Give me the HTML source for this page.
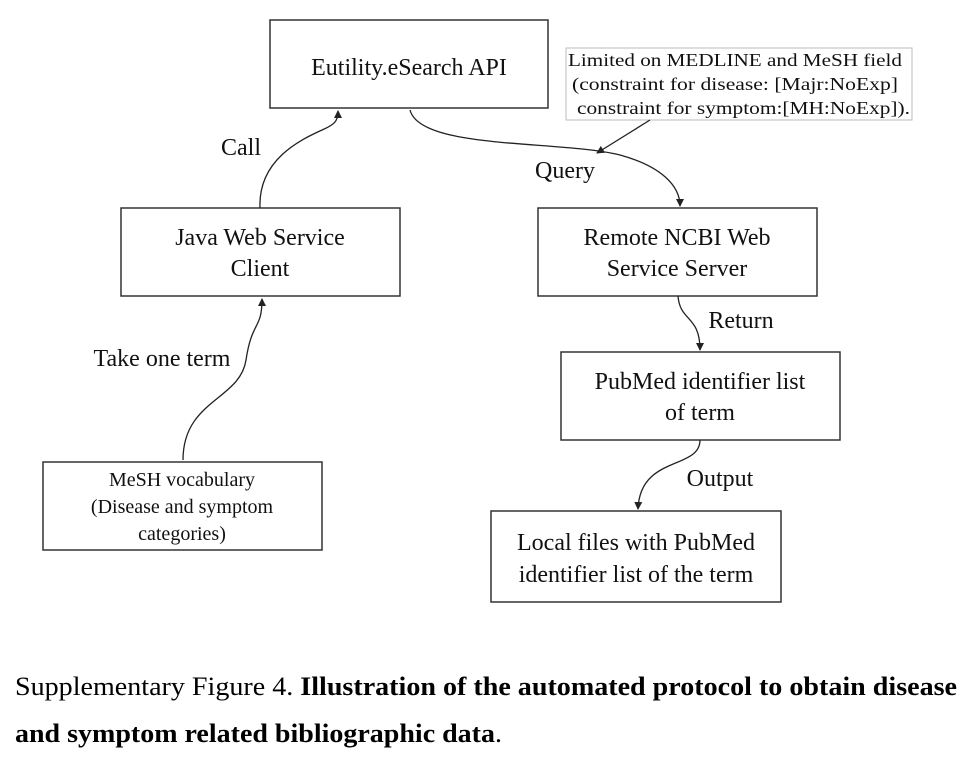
<!DOCTYPE html>
<html><head><meta charset="utf-8"><style>
html,body{margin:0;padding:0;background:#fff;}
svg{display:block;}
text{font-family:"Liberation Serif","Times New Roman",serif;}
</style></head><body>
<svg width="971" height="758" viewBox="0 0 971 758" xmlns="http://www.w3.org/2000/svg" font-family="Liberation Serif, serif">
<defs><marker id="a" markerWidth="8" markerHeight="8" refX="7" refY="4" orient="auto" markerUnits="userSpaceOnUse"><path d="M0,0 L8,4 L0,8 z" fill="#222"/></marker></defs>
<g fill="none" stroke="#333" stroke-width="1.5">
<rect x="270" y="20" width="278" height="88"/>
<rect x="121" y="208" width="279" height="88"/>
<rect x="538" y="208" width="279" height="88"/>
<rect x="43" y="462" width="279" height="88"/>
<rect x="561" y="352" width="279" height="88"/>
<rect x="491" y="511" width="290" height="91"/>
</g>
<rect x="566" y="48" width="346" height="72" fill="none" stroke="#bbb" stroke-width="1"/>
<g fill="none" stroke="#222" stroke-width="1.3">
<path d="M260 208 C258 160, 300 140, 322 130 C336 124, 338 120, 338 111" marker-end="url(#a)"/>
<path d="M410 110 C420 150, 560 140, 620 155 C660 166, 680 185, 680 206" marker-end="url(#a)"/>
<path d="M650 120 L597 153" marker-end="url(#a)"/>
<path d="M678 296 C680 322, 700 315, 700 350" marker-end="url(#a)"/>
<path d="M183 460 C183 400, 240 400, 246 360 C252 320, 262 330, 262 299" marker-end="url(#a)"/>
<path d="M700 440 C700 470, 640 455, 638 509" marker-end="url(#a)"/>
</g>
<g fill="#111" text-anchor="middle" font-size="24">
<text x="409" y="75">Eutility.eSearch API</text>
<text x="260" y="245">Java Web Service</text>
<text x="260" y="276">Client</text>
<text x="677" y="245">Remote NCBI Web</text>
<text x="677" y="276">Service Server</text>
<text x="700" y="389">PubMed identifier list</text>
<text x="700" y="420">of term</text>
<text x="636" y="550">Local files with PubMed</text>
<text x="636" y="582">identifier list of the term</text>
<text x="241" y="155">Call</text>
<text x="565" y="178">Query</text>
<text x="741" y="328">Return</text>
<text x="162" y="366">Take one term</text>
<text x="720" y="486">Output</text>
</g>
<g fill="#111" text-anchor="middle" font-size="20">
<text x="182" y="486">MeSH vocabulary</text>
<text x="182" y="513">(Disease and symptom</text>
<text x="182" y="540">categories)</text>
</g>
<g fill="#111" font-size="18">
<text x="568" y="66" textLength="334" lengthAdjust="spacingAndGlyphs">Limited on MEDLINE and MeSH field</text>
<text x="572" y="90" textLength="326" lengthAdjust="spacingAndGlyphs">(constraint for disease: [Majr:NoExp]</text>
<text x="577" y="114" textLength="333" lengthAdjust="spacingAndGlyphs">constraint for symptom:[MH:NoExp]).</text>
</g>
<g fill="#000" font-size="26">
<text x="15" y="695" textLength="942" lengthAdjust="spacingAndGlyphs">Supplementary Figure 4. <tspan font-weight="bold">Illustration of the automated protocol to obtain disease</tspan></text>
<text x="15" y="742" textLength="487" lengthAdjust="spacingAndGlyphs"><tspan font-weight="bold">and symptom related bibliographic data</tspan>.</text>
</g>
</svg>
</body></html>
